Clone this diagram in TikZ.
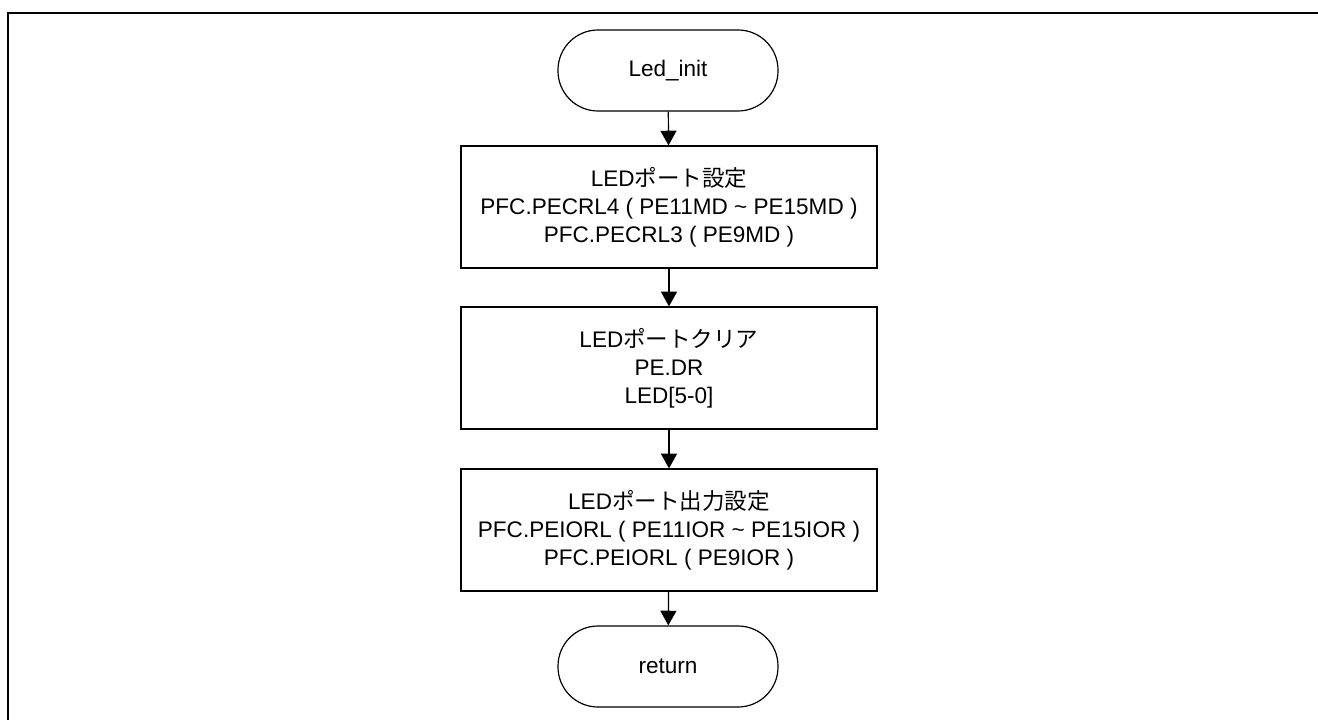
\documentclass[tikz,border=0pt]{standalone}
\usepackage{fontspec}
\setmainfont{Liberation Sans}
\newfontfamily\jpfont{Noto Sans CJK JP}
\usepackage{tikz}
\usetikzlibrary{arrows.meta}

\begin{document}
\begin{tikzpicture}
	[
	x=0.75pt, y=-0.75pt,
	align=center,
	font=\fontsize{16.9}{21}\selectfont,
	term/.style={draw, line width=0.9pt, rounded corners=30pt, minimum width=165pt, minimum height=60.75pt, inner sep=0pt},
	proc/.style={draw, line width=0.9pt, minimum width=312pt, minimum height=91.5pt, inner sep=0pt},
	flow/.style={line width=0.9pt, -{Triangle[width=12pt,length=11pt]}},
	]
		\useasboundingbox (0,0) rectangle (1318,720);
		% frame
		\draw[line width=1.3pt] (8,722) -- (8,13) -- (1320,13);
		
		% start
		\node[term] (start) at 	( 668,  70.5 ) {Led\_init};
		
		% steps
		\node[proc] (port) at 	( 669, 207 ) {LED{\jpfont ポート設定}\\PFC.PECRL4 ( PE11MD \textasciitilde\ PE15MD )\\PFC.PECRL3 ( PE9MD )};
		\node[proc] (clear) at 	( 669, 368 ) {LED{\jpfont ポートクリア}\\PE.DR\\LED[5-0]};
		\node[proc] (out) at 	( 669, 530 ) {LED{\jpfont ポート出力設定}\\PFC.PEIORL ( PE11IOR \textasciitilde\ PE15IOR )\\PFC.PEIORL ( PE9IOR )};
		
		% end
		\node[term] (ret) at 	( 668, 666.5 ) {return};
		
		\foreach \from/\to in {start/port,port/clear,clear/out,out/ret} \draw[flow] (\from) -- (\to);
		
	\end{tikzpicture}
\end{document}
